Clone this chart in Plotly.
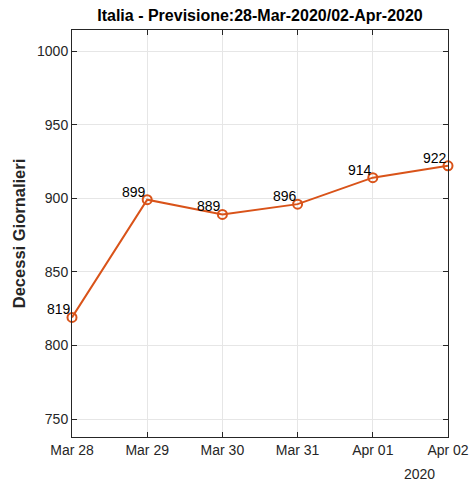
import plotly.graph_objects as go

dates = ["2020-03-28", "2020-03-29", "2020-03-30", "2020-03-31", "2020-04-01", "2020-04-02"]
deaths = [819, 899, 889, 896, 914, 922]
tick_labels = ["Mar 28", "Mar 29", "Mar 30", "Mar 31", "Apr 01", "Apr 02"]
y_ticks = [750, 800, 850, 900, 950, 1000]

line_color = "#D95319"
axis_color = "#262626"
font_family = "Liberation Sans, Arial, Helvetica, sans-serif"

fig = go.Figure()
fig.add_trace(go.Scatter(
    x=dates, y=deaths,
    mode="lines+markers",
    line=dict(color=line_color, width=2),
    marker=dict(symbol="circle-open", size=9, color=line_color, line=dict(width=2, color=line_color)),
    cliponaxis=False,
    showlegend=False,
))

for d, v in zip(dates, deaths):
    fig.add_annotation(x=d, y=v, text=str(v), showarrow=False,
                       xanchor="right", yanchor="bottom", xshift=1, yshift=-2,
                       font=dict(family=font_family, size=14, color="black"))

axis_common = dict(
    showline=True, linecolor=axis_color, linewidth=1, mirror="ticks",
    ticks="inside", ticklen=5, tickcolor=axis_color,
    showgrid=True, gridcolor="#E6E6E6", gridwidth=1,
    tickfont=dict(family=font_family, size=14, color=axis_color),
    zeroline=False, automargin=False,
)

fig.update_layout(
    width=469, height=481,
    margin=dict(l=72, r=21, t=30, b=44),
    paper_bgcolor="white", plot_bgcolor="white",
    title=dict(text="<b>Italia - Previsione:28-Mar-2020/02-Apr-2020</b>",
               x=(72 + 448) / 2 / 469, xanchor="center", y=1 - 15 / 481, yanchor="middle",
               font=dict(family=font_family, size=16, color="black")),
    xaxis=dict(axis_common, type="date", range=[dates[0], dates[-1]],
               tickvals=dates, ticktext=tick_labels),
    yaxis=dict(axis_common, range=[737.8, 1014.3], tickvals=y_ticks,
               title=dict(text="<b>Decessi Giornalieri</b>", standoff=7,
                          font=dict(family=font_family, size=16.5, color=axis_color))),
)

fig.add_annotation(text="2020", xref="paper", yref="paper", x=1, y=0,
                   xanchor="center", yanchor="top", yshift=-27, xshift=-29, showarrow=False,
                   font=dict(family=font_family, size=14, color=axis_color))

fig.write_html("out.html", config={"displayModeBar": False},
               post_script="document.body.style.margin='0';document.body.style.overflow='hidden';")
